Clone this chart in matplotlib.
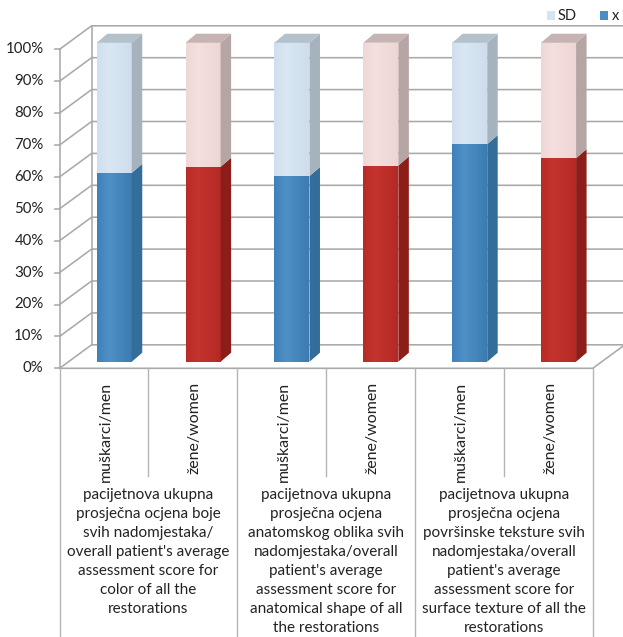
import numpy as np
import matplotlib
matplotlib.use("Agg")
import matplotlib.pyplot as plt
from matplotlib.patches import Polygon, Rectangle
from matplotlib.colors import LinearSegmentedColormap

plt.rcParams['font.family'] = ['Lato', 'DejaVu Sans']

# ---- data (100% stacked: mean x and SD share of each bar) ----
categories = ['muškarci/men', 'žene/women',
              'muškarci/men', 'žene/women',
              'muškarci/men', 'žene/women']
groups = [
    "pacijetnova ukupna\nprosječna ocjena boje\nsvih nadomjestaka/\noverall patient's average\nassessment score for\ncolor of all the\nrestorations",
    "pacijetnova ukupna\nprosječna ocjena\nanatomskog oblika svih\nnadomjestaka/overall\npatient's average\nassessment score for\nanatomical shape of all\nthe restorations",
    "pacijetnova ukupna\nprosječna ocjena\npovršinske teksture svih\nnadomjestaka/overall\npatient's average\nassessment score for\nsurface texture of all the\nrestorations",
]
x_share = [59.2, 61.1, 58.2, 61.5, 68.2, 63.8]
sd_share = [40.8, 38.9, 41.8, 38.5, 31.8, 36.2]
y_ticks = list(range(0, 101, 10))
y_tick_labels = [f"{v}%" for v in y_ticks]
series_names = ['SD', 'x']

# ---- styling ----
W, H = 623, 637
fig = plt.figure(figsize=(W / 100, H / 100), dpi=100)
ax = fig.add_axes([0, 0, 1, 1])
ax.set_axis_off()

# front plane: category -0.5 .. 5.5 spans px 59.6 .. 592.8, 0..100% spans px 368.3 .. 49.3
px_x = (592.8 - 59.6) / 6.0
px_y = (368.3 - 49.3) / 100.0
ax.set_xlim(-0.5 - 59.6 / px_x, 5.5 + (W - 592.8) / px_x)
ax.set_ylim(-(H - 368.3) / px_y, 100 + 49.3 / px_y)

def dx(px):
    return px / px_x

def dy(px):
    return px / px_y

def row(px_from_top):
    return (368.3 - px_from_top) / px_y

def col(px_from_left):
    return (px_from_left - 59.6) / px_x - 0.5

grid_c = '#a9a9a9'
grid_lw = 1.15
sep_c = '#b4b4b4'
text_c = '#222222'

DX, DY = dx(32), dy(23.5)          # depth of the whole box
x0, x1 = -0.5, len(categories) - 0.5

# back wall + left wall gridlines
for v in y_ticks:
    ax.plot([x0, x0 + DX, x1 + DX + 0.2], [v, v + DY, v + DY],
            color=grid_c, lw=grid_lw, solid_capstyle='butt', zorder=1)
    ax.plot([x0 - dx(4.5), x0], [v, v], color=grid_c, lw=grid_lw, zorder=1)
ax.plot([x0 + DX, x0 + DX], [DY, 100 + DY], color=grid_c, lw=grid_lw, zorder=1)
ax.plot([x0, x0], [0, 100], color=grid_c, lw=grid_lw, zorder=1)
# floor front and right edges
ax.plot([x0, x1, x1 + DX], [0, 0, DY], color=grid_c, lw=grid_lw, zorder=1)

# bar geometry
bar_w = dx(35)
bar_left_off = -0.082              # screen offset of the front face left edge
fz = 0.28                          # depth of the bar front face within the box
bdx, bdy = dx(10.5), dy(9.0)       # bar depth vector

palette = {
    'men':   dict(front=('#3f80b8', '#4f91c7', '#3c7bb1'), side='#336d99',
                  light=('#d0dfed', '#d9e7f3', '#cedded'), lside='#a6b3bd', ltop='#b4c1cb'),
    'women': dict(front=('#b92b26', '#c4342e', '#b52925'), side='#8d1d19',
                  light=('#efd7d6', '#f4e0df', '#eed5d4'), lside='#b6a5a5', ltop='#c5b4b3'),
}

def grad_face(xl, xr, yb, yt, cols, z):
    cmap = LinearSegmentedColormap.from_list('g', [(0, cols[0]), (0.35, cols[1]), (1, cols[2])])
    g = np.linspace(0, 1, 64).reshape(1, -1)
    ax.imshow(g, cmap=cmap, extent=[xl, xr, yb, yt], aspect='auto',
              interpolation='bilinear', zorder=z)

for i, (xs, ss) in enumerate(zip(x_share, sd_share)):
    total = xs + ss
    xv = xs / total * 100
    pal = palette['men' if i % 2 == 0 else 'women']
    left = i + bar_left_off
    right = left + bar_w
    oy = fz * DY
    b0, bm, bt = oy, xv + oy, 100 + oy
    z = 3 + i
    # front faces
    grad_face(left, right, b0, bm, pal['front'], z)
    grad_face(left, right, bm, bt, pal['light'], z)
    # side faces
    ax.add_patch(Polygon([(right, b0), (right + bdx, b0 + bdy), (right + bdx, bm + bdy), (right, bm)],
                         closed=True, fc=pal['side'], ec='none', zorder=z))
    ax.add_patch(Polygon([(right, bm), (right + bdx, bm + bdy), (right + bdx, bt + bdy), (right, bt)],
                         closed=True, fc=pal['lside'], ec='none', zorder=z))
    # top face
    ax.add_patch(Polygon([(left, bt), (right, bt), (right + bdx, bt + bdy), (left + bdx, bt + bdy)],
                         closed=True, fc=pal['ltop'], ec='none', zorder=z))

# y tick labels
for v, lab in zip(y_ticks, y_tick_labels):
    ax.text(x0 - dx(16), v, lab, ha='right', va='center', fontsize=10.8, color=text_c)

# category separators below the floor
bottom = ax.get_ylim()[0]
for k in range(len(categories) + 1):
    xb = x0 + k
    y_end = bottom if k % 2 == 0 else row(476)
    ax.plot([xb, xb], [0, y_end], color=sep_c, lw=1.0, zorder=1)

# category labels (rotated)
for i, lab in enumerate(categories):
    ax.text(i + 0.02, row(382), lab, rotation=90, ha='center', va='top',
            fontsize=11.5, color=text_c)

# group labels
for g, lab in enumerate(groups):
    ax.text(2 * g + 0.5, row(488), lab, ha='center', va='top', multialignment='center',
            fontsize=11, color=text_c, linespacing=1.45)

# legend
ax.add_patch(Rectangle((col(546.7), row(20)), dx(8.5), dy(8.5), fc='#d6e4f0', ec='none'))
ax.text(col(558), row(16.5), series_names[0], ha='left', va='center', fontsize=10.5, color=text_c)
ax.add_patch(Rectangle((col(599.5), row(20)), dx(8.5), dy(8.5), fc='#4a8cc4', ec='none'))
ax.text(col(611.5), row(16.5), series_names[1], ha='left', va='center', fontsize=10.5, color=text_c)

fig.savefig('out.png', dpi=100)
